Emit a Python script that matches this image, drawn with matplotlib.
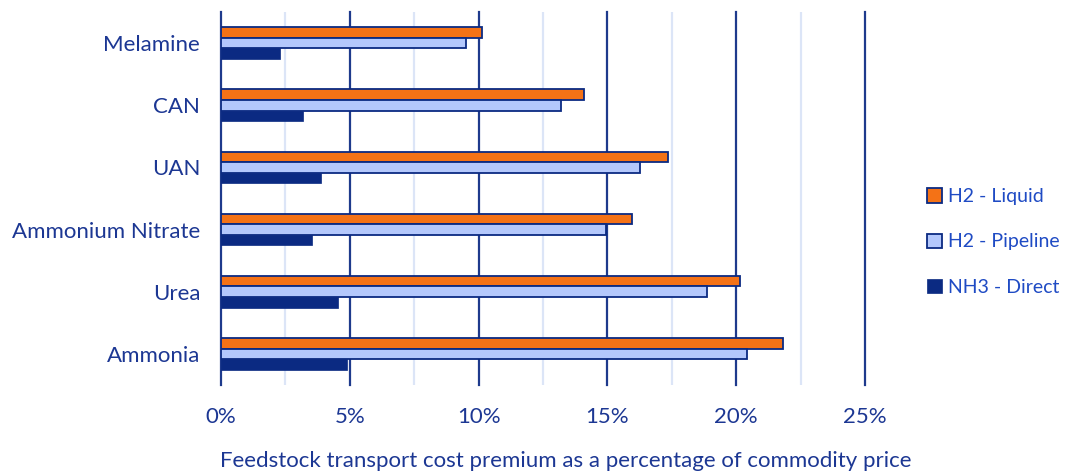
import matplotlib.pyplot as plt
import numpy as np
from matplotlib.ticker import MultipleLocator, PercentFormatter

products = ["Ammonia", "Urea", "Ammonium Nitrate", "UAN", "CAN", "Melamine"]
h2_liquid = [21.8, 20.15, 15.95, 17.35, 14.1, 10.15]
h2_pipeline = [20.4, 18.85, 14.95, 16.25, 13.2, 9.5]
nh3_direct = [4.9, 4.55, 3.55, 3.9, 3.2, 2.3]

navy = "#0B2A82"
grid_dark = "#1E3A8C"
grid_light = "#DCE5F7"
text_col = "#1C3793"
legend_col = "#1F4BC4"
orange = "#F47216"
light_blue = "#B4C8FC"

plt.rcParams['font.family'] = ['Lato', 'DejaVu Sans']

fig = plt.figure(figsize=(10.71, 4.72), dpi=100)
ax = fig.add_axes([221/1071, 87/472, 644/1071, 373/472])

y = np.arange(len(products))
h = 0.17
ax.barh(y + h, h2_liquid, height=h, color=orange, edgecolor=navy, linewidth=1.3,
        label="H2 - Liquid", zorder=3)
ax.barh(y, h2_pipeline, height=h, color=light_blue, edgecolor=navy, linewidth=1.3,
        label="H2 - Pipeline", zorder=3)
ax.barh(y - h, nh3_direct, height=h, color=navy, edgecolor=navy, linewidth=0.5,
        label="NH3 - Direct", zorder=3)

ax.set_xlim(0, 25)
ax.set_ylim(-0.5, len(products) - 0.5)
ax.xaxis.set_major_locator(MultipleLocator(5))
ax.xaxis.set_minor_locator(MultipleLocator(2.5))
ax.xaxis.set_major_formatter(PercentFormatter(decimals=0))
ax.grid(axis='x', which='major', color=grid_dark, linewidth=1.6, zorder=1)
ax.grid(axis='x', which='minor', color=grid_light, linewidth=1.6, zorder=0)
for gl in ax.xaxis.get_gridlines():
    gl.set_clip_on(False)

ax.set_yticks(y)
ax.set_yticklabels(products)
ax.tick_params(axis='both', which='both', length=0, labelsize=16, labelcolor=text_col)
ax.tick_params(axis='x', pad=16)
ax.tick_params(axis='y', pad=15)
for s in ax.spines.values():
    s.set_visible(False)

fig.text(566/1071, 11/472, "Feedstock transport cost premium as a percentage of commodity price",
         ha='center', va='center', fontsize=16, color=text_col)

leg = fig.legend(loc='center left', bbox_to_anchor=(927/1071, (472 - 242)/472), frameon=False,
                 fontsize=14, labelcolor=legend_col, handlelength=0.75, handleheight=0.75,
                 handletextpad=0.35, labelspacing=1.45, borderpad=0, borderaxespad=0)

fig.savefig("out.png", dpi=100)
